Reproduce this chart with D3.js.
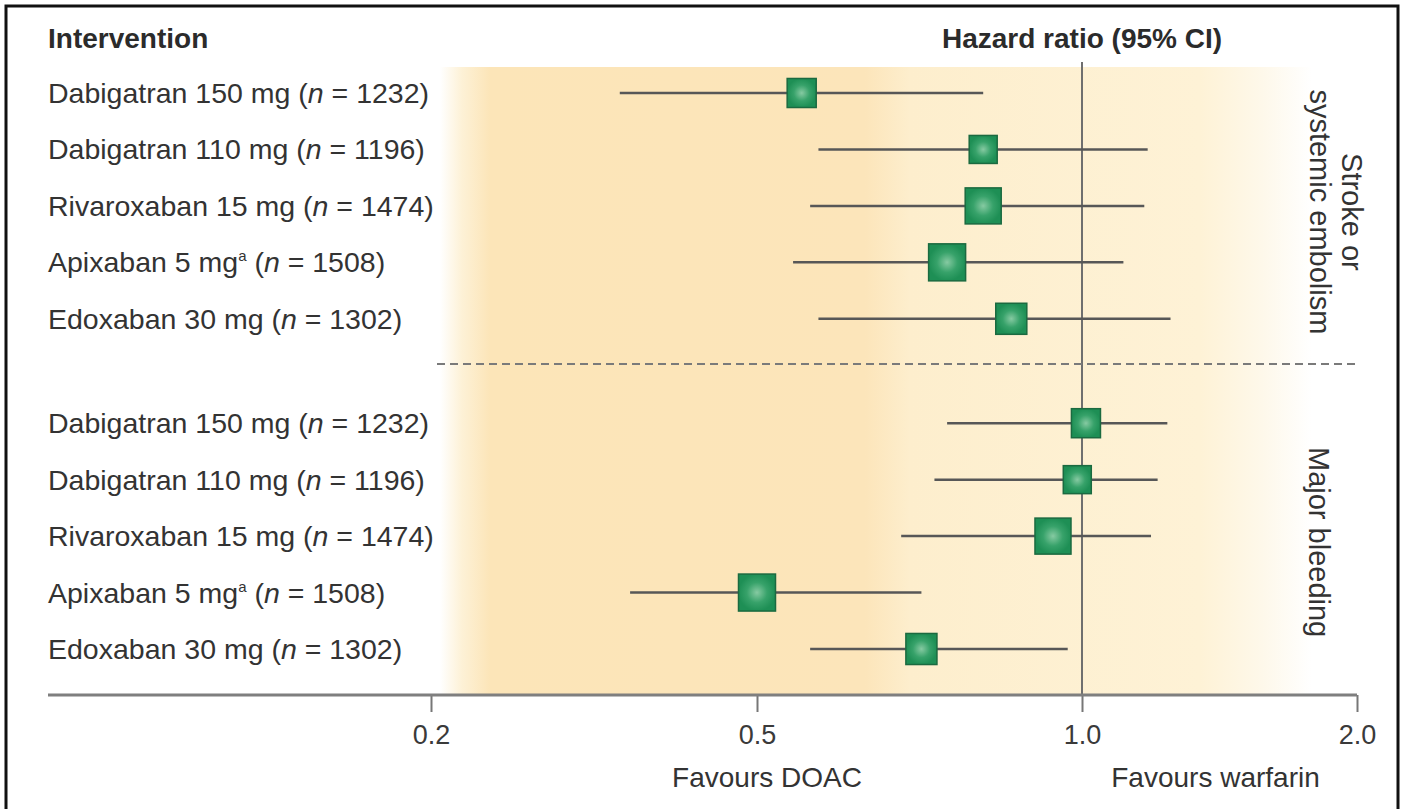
<!DOCTYPE html>
<html>
<head>
<meta charset="utf-8">
<script src="https://cdn.jsdelivr.net/npm/d3@7"></script>
<style>
  html, body { margin: 0; padding: 0; background: #fff; }
  svg { display: block; font-family: Arial, "Liberation Sans", Helvetica, sans-serif; }
</style>
</head>
<body>
<div id="chart"></div>
<script>
// --- DATA ---
const drugs = ["Dabigatran 150 mg", "Dabigatran 110 mg", "Rivaroxaban 15 mg", "Apixaban 5 mg", "Edoxaban 30 mg"];
const footnote = [false, false, false, true, false];
const sampleN = [1232, 1196, 1474, 1508, 1302];
const outcomes = [["Stroke or", "systemic embolism"], ["Major bleeding"]];

// hazard ratio, lower and upper 95% CI, one array per outcome
const strokeHR = [0.55, 0.81, 0.81, 0.75, 0.86];
const strokeLo = [0.34, 0.57, 0.56, 0.54, 0.57];
const strokeHi = [0.81, 1.18, 1.17, 1.11, 1.25];
const bleedHR = [1.01, 0.99, 0.94, 0.50, 0.71];
const bleedLo = [0.75, 0.73, 0.68, 0.35, 0.56];
const bleedHi = [1.24, 1.21, 1.19, 0.71, 0.97];

const tickValues = [0.2, 0.5, 1.0, 2.0];
const sideLabels = ["Favours DOAC", "Favours warfarin"];

const W = 1405, H = 809;

const rows = [];
outcomes.forEach((o, g) => {
  const hr = g === 0 ? strokeHR : bleedHR;
  const lo = g === 0 ? strokeLo : bleedLo;
  const hi = g === 0 ? strokeHi : bleedHi;
  drugs.forEach((d, i) => {
    rows.push({ group: g, idx: i, name: d, foot: footnote[i], n: sampleN[i], hr: hr[i], lo: lo[i], hi: hi[i] });
  });
});

// the printed axis is not evenly logarithmic, so use a piecewise log scale
const x = d3.scaleLog().domain(tickValues).range([431, 757, 1082, 1357]);
const slot = d => d.group === 0 ? d.idx : d.idx + 5.85;
const y = d3.scaleLinear().domain([0, 9.85]).range([93, 649]);
const size = d3.scaleLinear().domain([1196, 1508]).range([28, 37]);

const svg = d3.select("#chart").append("svg")
  .attr("width", W).attr("height", H);

const defs = svg.append("defs");
const bg = defs.append("linearGradient").attr("id", "bgGrad")
  .attr("gradientUnits", "userSpaceOnUse")
  .attr("x1", 440).attr("x2", 1312).attr("y1", 0).attr("y2", 0);
[[440, "#ffffff"], [462, "#fdf1d6"], [490, "#fce5b8"], [865, "#fce5ba"], [910, "#fdeecd"],
 [1200, "#fef2d6"], [1262, "#fef8ea"], [1312, "#ffffff"]].forEach(s => {
  bg.append("stop").attr("offset", (s[0] - 440) / 872).attr("stop-color", s[1]);
});

const sq = defs.append("radialGradient").attr("id", "sqGrad");
sq.append("stop").attr("offset", 0).attr("stop-color", "#86caa2");
sq.append("stop").attr("offset", 0.55).attr("stop-color", "#37a26a");
sq.append("stop").attr("offset", 1).attr("stop-color", "#1e8f55");

// shaded panel
svg.append("rect")
  .attr("x", 440).attr("y", 67).attr("width", 872).attr("height", 628)
  .attr("fill", "url(#bgGrad)");

// frame
svg.append("rect")
  .attr("x", 6).attr("y", 6).attr("width", 1392).attr("height", 812)
  .attr("fill", "none").attr("stroke", "#111").attr("stroke-width", 3);

// headers
svg.append("text").attr("x", 48).attr("y", 48)
  .attr("font-size", 28).attr("font-weight", "bold").attr("fill", "#2b2b2b")
  .text("Intervention");
svg.append("text").attr("x", x(1)).attr("y", 48)
  .attr("text-anchor", "middle")
  .attr("font-size", 28).attr("font-weight", "bold").attr("fill", "#2b2b2b")
  .text("Hazard ratio (95% CI)");

// line of no effect
svg.append("line")
  .attr("x1", x(1)).attr("x2", x(1)).attr("y1", 62).attr("y2", 695)
  .attr("stroke", "#6f6f6f").attr("stroke-width", 2);

// separator between outcomes
svg.append("line")
  .attr("x1", 437).attr("x2", 1358).attr("y1", y(4.8)).attr("y2", y(4.8))
  .attr("stroke", "#7a7a7a").attr("stroke-width", 2)
  .attr("stroke-dasharray", "8,5");

// axis
const axis = d3.axisBottom(x)
  .tickValues(tickValues)
  .tickFormat(d3.format(".1f"))
  .tickSize(17)
  .tickSizeOuter(0)
  .tickPadding(13);
const ax = svg.append("g").attr("transform", "translate(0,695)").call(axis);
ax.select(".domain").remove();
ax.selectAll(".tick line").attr("stroke", "#777").attr("stroke-width", 2);
ax.selectAll(".tick text").attr("font-size", 27).attr("fill", "#3a3a3a")
  .attr("font-family", "Arial, 'Liberation Sans', sans-serif");
ax.append("line")
  .attr("x1", 48).attr("x2", x(2)).attr("y1", 0).attr("y2", 0)
  .attr("stroke", "#7f7f7f").attr("stroke-width", 3);

svg.selectAll(".favours")
  .data(sideLabels)
  .enter().append("text")
  .attr("class", "favours")
  .attr("x", (d, i) => i === 0 ? x(0.5) + 10 : x(1.4))
  .attr("y", 787)
  .attr("text-anchor", "middle")
  .attr("font-size", 28).attr("fill", "#333")
  .text(d => d);

// row labels
const labels = svg.selectAll(".row-label")
  .data(rows)
  .enter().append("text")
  .attr("class", "row-label")
  .attr("x", 48)
  .attr("y", d => y(slot(d)) + 10)
  .attr("font-size", 28.5).attr("fill", "#333");
labels.append("tspan").text(d => d.name);
labels.filter(d => d.foot).append("tspan")
  .attr("font-size", 15).attr("dy", -11).text("a");
labels.append("tspan")
  .attr("dy", d => d.foot ? 11 : 0)
  .text(" (");
labels.append("tspan").attr("font-style", "italic").text("n");
labels.append("tspan").text(d => " = " + d.n + ")");

// confidence intervals
svg.selectAll(".ci")
  .data(rows)
  .enter().append("line")
  .attr("class", "ci")
  .attr("x1", d => x(d.lo)).attr("x2", d => x(d.hi))
  .attr("y1", d => y(slot(d))).attr("y2", d => y(slot(d)))
  .attr("stroke", "#575757").attr("stroke-width", 2.5);

// point estimates
svg.selectAll(".hr")
  .data(rows)
  .enter().append("rect")
  .attr("class", "hr")
  .attr("x", d => x(d.hr) - size(d.n) / 2)
  .attr("y", d => y(slot(d)) - size(d.n) / 2)
  .attr("width", d => size(d.n))
  .attr("height", d => size(d.n))
  .attr("fill", "url(#sqGrad)")
  .attr("stroke", "#1b6a40").attr("stroke-width", 1.5);

// outcome labels, rotated
const groupY = g => (y(slot({ group: g, idx: 0 })) + y(slot({ group: g, idx: 4 }))) / 2;
outcomes.forEach((lines, g) => {
  const t = svg.append("text")
    .attr("transform", `translate(${lines.length === 2 ? 1342 : 1309},${groupY(g) + 6}) rotate(90)`)
    .attr("text-anchor", "middle")
    .attr("font-size", 29).attr("fill", "#333");
  lines.forEach((l, i) => {
    t.append("tspan").attr("x", 0).attr("dy", i === 0 ? 0 : 32).text(l);
  });
});
</script>
</body>
</html>
